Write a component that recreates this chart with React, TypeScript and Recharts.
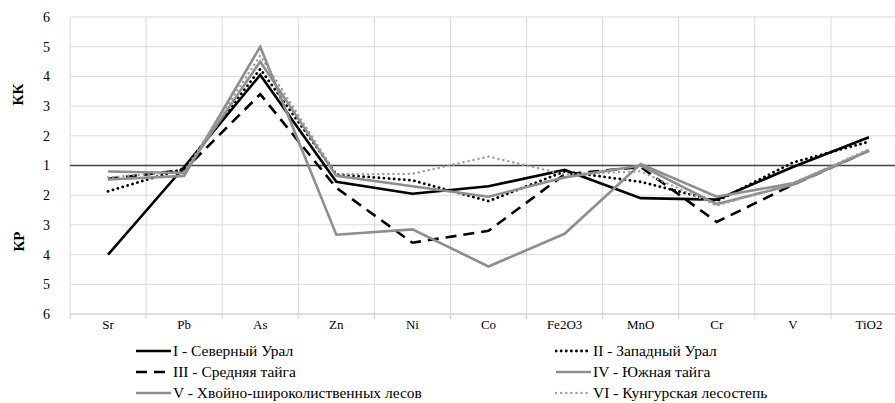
import { LineChart, Line, XAxis, YAxis, CartesianGrid, ReferenceLine } from 'recharts';

// elements along the x axis
const elements = ['Sr', 'Pb', 'As', 'Zn', 'Ni', 'Co', 'Fe2O3', 'MnO', 'Cr', 'V', 'TiO2'];

// coefficients: positive = КК (above 1), negative = КР (below 1)
const northUral = [-4.0, -1.05, 4.05, -1.55, -1.95, -1.7, -1.15, -2.1, -2.15, -1.05, 1.95];
const westUral = [-1.87, -1.1, 4.25, -1.3, -1.5, -2.2, -1.2, -1.55, -2.2, 1.1, 1.8];
const middleTaiga = [-1.45, -1.15, 3.4, -1.75, -3.6, -3.2, -1.3, -1.05, -2.9, -1.65, 1.5];
const southTaiga = [-1.2, -1.25, 4.5, -1.35, -1.7, -2.05, -1.4, -1.0, -2.3, -1.65, 1.5];
const mixedForest = [-1.47, -1.35, 5.0, -3.33, -3.15, -4.4, -3.3, 1.05, -2.05, -1.6, 1.5];
const kungurSteppe = [-1.4, -1.2, 4.7, -1.3, -1.28, 1.3, -1.3, -1.2, -2.35, -1.6, 1.55];

const yTicks = [-5, -4, -3, -2, -1, 0, 1, 2, 3, 4, 5];

const series = [
  { key: 's1', name: 'I - Северный Урал', values: northUral, color: '#000000', dash: undefined, width: 2.6 },
  { key: 's2', name: 'II - Западный Урал', values: westUral, color: '#000000', dash: '0.1 5', width: 2.8 },
  { key: 's3', name: 'III - Средняя тайга', values: middleTaiga, color: '#000000', dash: '11 7', width: 2.6 },
  { key: 's4', name: 'IV - Южная тайга', values: southTaiga, color: '#8e8e8e', dash: undefined, width: 2.6 },
  { key: 's5', name: 'V - Хвойно-широколиственных лесов', values: mixedForest, color: '#8e8e8e', dash: undefined, width: 2.6 },
  { key: 's6', name: 'VI - Кунгурская лесостепь', values: kungurSteppe, color: '#9c9c9c', dash: '0.1 5', width: 2.4 },
];

// КК/КР coefficient -> position on a single linear axis (1 sits at zero)
const toAxis = (c: number) => (c > 0 ? c - 1 : c + 1);

const data = elements.map((name, i) => {
  const row: Record<string, number | string> = { i, name };
  series.forEach((s) => {
    row[s.key] = toAxis(s.values[i]);
  });
  return row;
});

const xTicks: number[] = [];
for (let k = -0.5; k <= elements.length - 0.5; k += 0.5) xTicks.push(k);

const serif = "'Liberation Serif', 'Times New Roman', serif";

function XTick(props: any) {
  const { x, y, payload } = props;
  const v = payload.value as number;
  if (Number.isInteger(v)) {
    return (
      <text x={x} y={y + 15} textAnchor="middle" fontFamily={serif} fontSize={13} fill="#000">
        {elements[v]}
      </text>
    );
  }
  return <line x1={x} y1={y} x2={x} y2={y + 5} stroke="#d0d0d0" />;
}

function LegendItem({ s }: { s: (typeof series)[number] }) {
  return (
    <div style={{ display: 'flex', alignItems: 'center', height: 21 }}>
      <svg width={37} height={10} style={{ marginRight: 1 }}>
        <line
          x1={1}
          y1={5}
          x2={36}
          y2={5}
          stroke={s.color}
          strokeWidth={s.width}
          strokeDasharray={s.dash}
          strokeLinecap={s.dash && s.dash.startsWith('0.1') ? 'round' : 'butt'}
        />
      </svg>
      <span>{s.name}</span>
    </div>
  );
}

export default function App() {
  const left = series.filter((_, k) => k % 2 === 0);
  const right = series.filter((_, k) => k % 2 === 1);
  return (
    <div style={{ position: 'absolute', left: 0, top: 0, width: 895, height: 403, overflow: 'hidden', background: '#fff', fontFamily: serif }}>
      <LineChart width={917} height={403} data={data} margin={{ top: 17, right: 10, left: 0, bottom: 59 }}>
        <CartesianGrid
          stroke="#d9d9d9"
          verticalCoordinatesGenerator={({ offset }: any) =>
            xTicks.filter((t) => !Number.isInteger(t)).map((t) => offset.left + ((t + 0.5) * offset.width) / elements.length)
          }
        />
        <XAxis
          type="number"
          dataKey="i"
          domain={[-0.5, elements.length - 0.5]}
          ticks={xTicks}
          interval={0}
          tick={<XTick />}
          tickLine={false}
          tickSize={0}
          tickMargin={0}
          axisLine={{ stroke: '#d0d0d0' }}
          height={30}
        />
        <YAxis
          type="number"
          domain={[-5, 5]}
          ticks={yTicks}
          tickFormatter={(v: number) => String(Math.abs(v) + 1)}
          tickLine={false}
          axisLine={false}
          tickSize={0}
          tickMargin={20}
          width={70}
          tick={{ fontFamily: serif, fontSize: 14, fill: '#000' }}
        />
        <ReferenceLine y={0} stroke="#404040" strokeWidth={1.3} />
        {series.map((s) => (
          <Line
            key={s.key}
            dataKey={s.key}
            name={s.name}
            type="linear"
            stroke={s.color}
            strokeWidth={s.width}
            strokeDasharray={s.dash}
            strokeLinecap={s.dash && s.dash.startsWith('0.1') ? 'round' : 'butt'}
            dot={false}
            activeDot={false}
            isAnimationActive={false}
          />
        ))}
      </LineChart>
      <div style={{ position: 'absolute', left: 4, top: 79, width: 30, height: 30, display: 'flex', alignItems: 'center', justifyContent: 'center' }}>
        <span style={{ transform: 'rotate(-90deg)', fontWeight: 'bold', fontSize: 15 }}>КК</span>
      </div>
      <div style={{ position: 'absolute', left: 4, top: 226, width: 30, height: 30, display: 'flex', alignItems: 'center', justifyContent: 'center' }}>
        <span style={{ transform: 'rotate(-90deg)', fontWeight: 'bold', fontSize: 15 }}>КР</span>
      </div>
      <div style={{ position: 'absolute', left: 135, top: 340, fontSize: 15.5, color: '#000' }}>
        {left.map((s) => (
          <LegendItem key={s.key} s={s} />
        ))}
      </div>
      <div style={{ position: 'absolute', left: 555, top: 340, fontSize: 15.5, color: '#000' }}>
        {right.map((s) => (
          <LegendItem key={s.key} s={s} />
        ))}
      </div>
    </div>
  );
}
